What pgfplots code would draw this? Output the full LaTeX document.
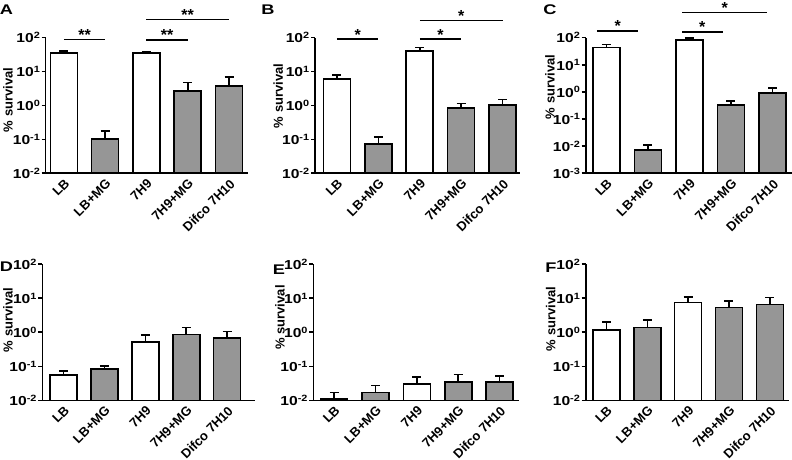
\documentclass[border=0pt]{standalone}
\usepackage{graphicx}
\usepackage{pgfplots}
\pgfplotsset{compat=1.18}
\usepackage{fontspec}
\setmainfont{Liberation Sans}
\definecolor{bargray}{RGB}{150,150,150}
\newcommand{\tl}[1]{\scalebox{1.2}[1]{10\textsuperscript{#1}}}
\newcommand{\pl}[1]{\scalebox{1.3}[1]{#1}}
\pgfplotsset{
 every axis/.append style={
  scale only axis, anchor=south west,
  axis x line*=bottom, axis y line*=left,
  axis line style={line width=1.6pt,-},
  xtick={0,1,2,3,4},
  xticklabels={LB,LB+MG,7H9,7H9+MG,Difco 7H10},
  xtick style={draw=none},
  x tick label style={rotate=45, anchor=north east, font=\fontsize{13}{13}\selectfont\bfseries, inner sep=0.5pt},
  y tick label style={font=\fontsize{13}{13}\selectfont\bfseries, inner sep=1pt},
  ytick style={line width=1.6pt,black},
  tick align=outside, major tick length=4pt,
  clip=false,
 },
}
\tikzset{plab/.style={font=\fontsize{14}{14}\selectfont\bfseries},
ylab/.style={rotate=90, font=\fontsize{13}{13}\selectfont\bfseries},
sigline/.style={line width=1.6pt},
sigstar/.style={anchor=base, yshift=-1pt, font=\fontsize{16}{16}\selectfont\bfseries}}
\newcommand{\barsW}{\addplot[ybar, bar width=27pt, bar shift=0pt, draw=black, fill=white, line width=1.6pt,
   error bars/.cd, y dir=plus, y explicit, error bar style={line width=1.6pt,black},
   error mark options={rotate=90, line width=1.6pt, black, mark size=4.5pt}]}
\newcommand{\barsG}{\addplot[ybar, bar width=27pt, bar shift=0pt, draw=black, fill=bargray, line width=1.6pt,
   error bars/.cd, y dir=plus, y explicit, error bar style={line width=1.6pt,black},
   error mark options={rotate=90, line width=1.6pt, black, mark size=4.5pt}]}
\begin{document}
\begin{tikzpicture}[x=1pt,y=1pt]
\useasboundingbox (0,0) rectangle (792,460);
% ---------------- A
\begin{axis}[ymode=log, log origin y=infty, ymin=0.01, ymax=100, ytick={0.01,0.1,1,10,100},
  yticklabels={\tl{-2},\tl{-1},\tl{0},\tl{1},\tl{2}}, yminorticks=false,
  at={(45.7pt,286.7pt)}, width=202.3pt, height=135.6pt, xmin=-0.44, xmax=4.46]
\barsW table[x=x,y=y,y error=e]{
x y e
0 36 4
2 36 2
};
\barsG table[x=x,y=y,y error=e]{
x y e
1 0.103 0.077
3 2.73 2.07
4 3.76 3.04
};
\draw[sigline] (axis cs:0,89) -- (axis cs:1,89);
\node[sigstar] at (axis cs:0.5,89) {**};
\draw[sigline] (axis cs:2,86) -- (axis cs:3,86);
\node[sigstar] at (axis cs:2.5,86) {**};
\draw[sigline] (axis cs:2,347) -- (axis cs:4,347);
\node[sigstar] at (axis cs:3,347) {**};
\end{axis}
% ---------------- B
\begin{axis}[ymode=log, log origin y=infty, ymin=0.01, ymax=100, ytick={0.01,0.1,1,10,100},
  yticklabels={\tl{-2},\tl{-1},\tl{0},\tl{1},\tl{2}}, yminorticks=false,
  at={(315pt,286.7pt)}, width=205pt, height=135.6pt, xmin=-0.53, xmax=4.42]
\barsW table[x=x,y=y,y error=e]{
x y e
0 6.05 1.85
2 40.5 10.2
};
\barsG table[x=x,y=y,y error=e]{
x y e
1 0.073 0.047
3 0.83 0.33
4 1.03 0.46
};
\draw[sigline] (axis cs:0,91) -- (axis cs:1,91);
\node[sigstar] at (axis cs:0.5,91) {*};
\draw[sigline] (axis cs:2,91) -- (axis cs:3,91);
\node[sigstar] at (axis cs:2.5,91) {*};
\draw[sigline] (axis cs:2,318) -- (axis cs:4,318);
\node[sigstar] at (axis cs:3,318) {*};
\end{axis}
% ---------------- C
\begin{axis}[ymode=log, log origin y=infty, ymin=0.001, ymax=100, ytick={0.001,0.01,0.1,1,10,100},
  yticklabels={\tl{-3},\tl{-2},\tl{-1},\tl{0},\tl{1},\tl{2}}, yminorticks=false,
  at={(585.7pt,286.7pt)}, width=206.3pt, height=135.6pt, xmin=-0.5, xmax=4.47]
\barsW table[x=x,y=y,y error=e]{
x y e
0 42.8 14.2
2 82 13
};
\barsG table[x=x,y=y,y error=e]{
x y e
1 0.0072 0.0041
3 0.337 0.133
4 0.93 0.46
};
\draw[sigline] (axis cs:-0.23,177) -- (axis cs:0.77,177);
\node[sigstar] at (axis cs:0.27,177) {*};
\draw[sigline] (axis cs:1.82,166) -- (axis cs:2.8,166);
\node[sigstar] at (axis cs:2.31,166) {*};
\draw[sigline] (axis cs:1.82,835) -- (axis cs:3.87,835);
\node[sigstar] at (axis cs:2.85,835) {*};
\end{axis}
% ---------------- D
\begin{axis}[ymode=log, log origin y=infty, ymin=0.01, ymax=100, ytick={0.01,0.1,1,10,100},
  yticklabels={\tl{-2},\tl{-1},\tl{0},\tl{1},\tl{2}}, yminorticks=false,
  at={(42.3pt,59.7pt)}, width=212.7pt, height=136pt, xmin=-0.52, xmax=4.68]
\barsW table[x=x,y=y,y error=e]{
x y e
0 0.0556 0.0174
2 0.51 0.33
};
\barsG table[x=x,y=y,y error=e]{
x y e
1 0.082 0.018
3 0.87 0.53
4 0.68 0.39
};
\end{axis}
% ---------------- E
\begin{axis}[ymode=log, log origin y=infty, ymin=0.01, ymax=100, ytick={0.01,0.1,1,10,100},
  yticklabels={\tl{-2},\tl{-1},\tl{0},\tl{1},\tl{2}}, yminorticks=false,
  at={(313.3pt,59.7pt)}, width=205.7pt, height=136pt, xmin=-0.505, xmax=4.47]
\barsW table[x=x,y=y,y error=e]{
x y e
0 0.011 0.006
2 0.030 0.0185
};
\barsG table[x=x,y=y,y error=e]{
x y e
1 0.0168 0.0108
3 0.0346 0.0224
4 0.034 0.018
};
\end{axis}
% ---------------- F
\begin{axis}[ymode=log, log origin y=infty, ymin=0.01, ymax=100, ytick={0.01,0.1,1,10,100},
  yticklabels={\tl{-2},\tl{-1},\tl{0},\tl{1},\tl{2}}, yminorticks=false,
  at={(585.7pt,59.7pt)}, width=203.3pt, height=136pt, xmin=-0.51, xmax=4.47]
\barsW table[x=x,y=y,y error=e]{
x y e
0 1.17 0.8
2 7.46 3.44
};
\barsG table[x=x,y=y,y error=e]{
x y e
1 1.40 0.91
3 5.43 2.77
4 6.66 4.04
};
\end{axis}
% panel letters
\node[plab] at (6.5,450) {\pl{A}};
\node[plab] at (268,450) {\pl{B}};
\node[plab] at (550,450) {\pl{C}};
\node[plab] at (6.5,193.3) {\pl{D}};
\node[plab] at (279,190) {\pl{E}};
\node[plab] at (551,192) {\pl{F}};
% y labels
\node[ylab] at (8,360) {\% survival};
\node[ylab] at (278.3,364) {\% survival};
\node[ylab] at (550,373) {\% survival};
\node[ylab] at (8,140) {\% survival};
\node[ylab] at (280,142.5) {\% survival};
\node[ylab] at (550.7,141) {\% survival};
\end{tikzpicture}
\end{document}
